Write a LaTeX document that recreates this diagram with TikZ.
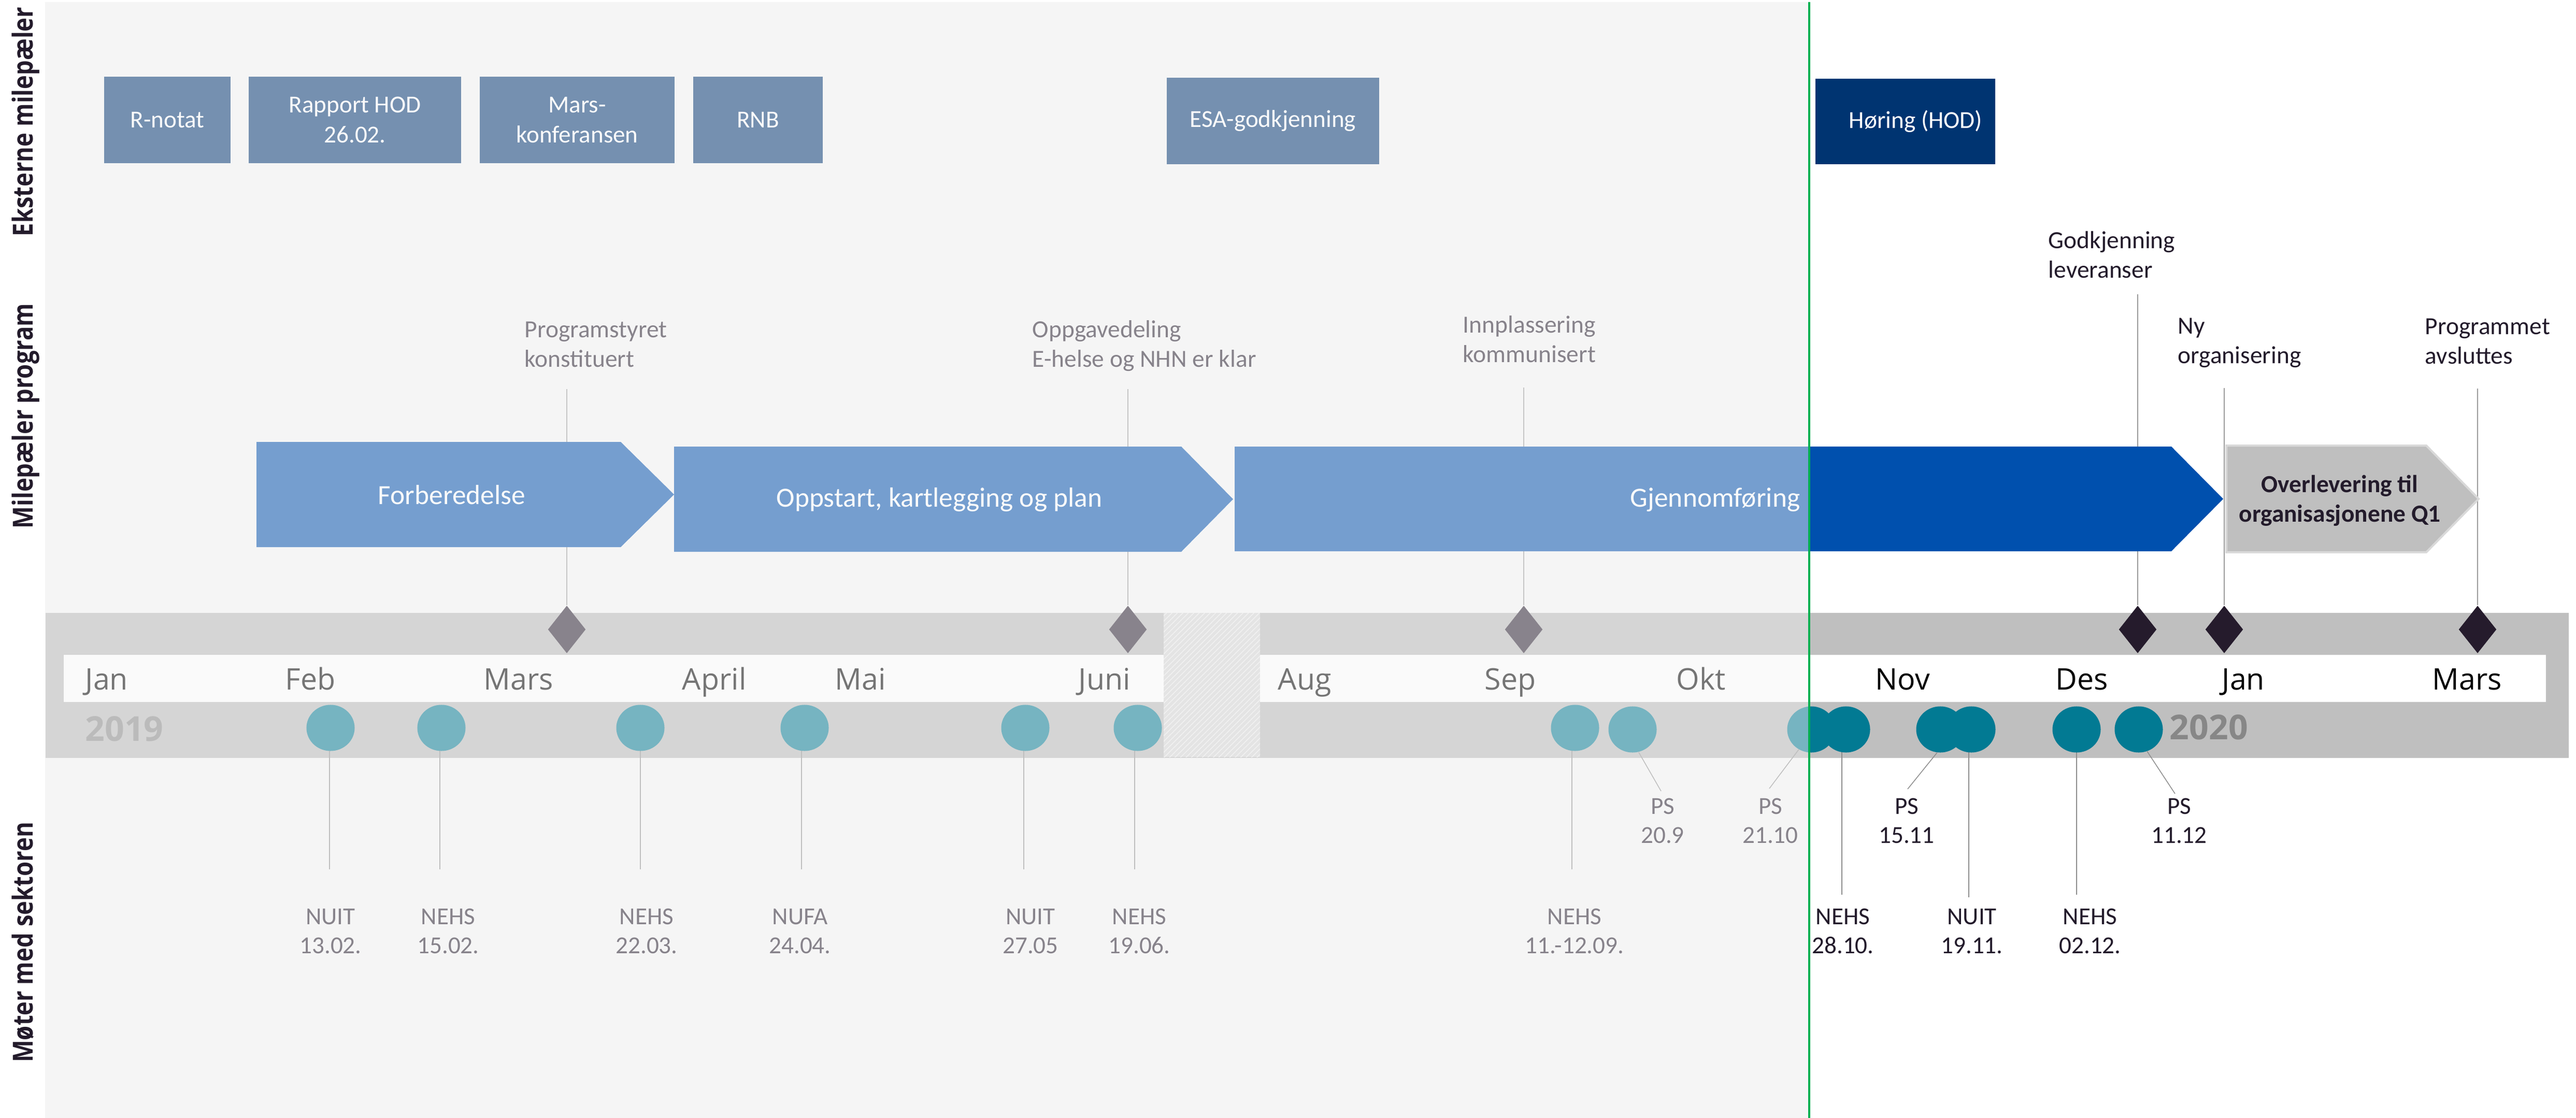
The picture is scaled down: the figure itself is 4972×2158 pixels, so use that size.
\documentclass[tikz,border=0pt]{standalone}
\usepackage{fontspec}
\setmainfont{Carlito}
\newfontfamily\monthfont{Open Sans}
\usetikzlibrary{shapes.geometric,patterns}
\definecolor{navy}{HTML}{003471}
\definecolor{arrowblue}{HTML}{0050AE}
\definecolor{arrowgray}{HTML}{BFBFBF}
\definecolor{arrowedge}{HTML}{D9D9D9}
\definecolor{darktxt}{HTML}{231B2B}
\definecolor{mtgteal}{HTML}{027A93}
\definecolor{diamc}{HTML}{251B2C}
\definecolor{bandL}{HTML}{B8B8B8}
\definecolor{bandR}{HTML}{BFBFBF}
\definecolor{panelc}{HTML}{F5F5F5}
\definecolor{gline}{HTML}{00B050}
\definecolor{yeartxt}{HTML}{878787}
\definecolor{linegray}{HTML}{9A9A9A}
\definecolor{linegrayb}{HTML}{8C8C8C}
\definecolor{gapc}{HTML}{E4E4E4}
\definecolor{gaphatch}{HTML}{F2F2F2}
\newcommand{\sidetext}[1]{\scalebox{0.85}[1]{#1}}
\tikzset{
 extbox/.style={rectangle, fill=navy, text=white, inner sep=0pt, align=center, font=\fontsize{13.4}{16.3}\selectfont, minimum height=1.67cm},
 arrowtxt/.style={inner sep=0pt, text=white, font=\fontsize{15.2}{18}\selectfont},
 mslabel/.style={anchor=north west, inner sep=0pt, align=left, text=darktxt, font=\fontsize{13.5}{16.4}\selectfont},
 msline/.style={draw=linegray, line width=0.02cm},
 mtline/.style={draw=linegrayb, line width=0.015cm},
 mtlabel/.style={anchor=north, inner sep=0pt, align=center, text=darktxt, font=\fontsize{13.4}{15.9}\selectfont},
 milestone/.style={diamond, fill=diamc, inner sep=0pt, minimum width=0.73cm, minimum height=0.92cm, aspect=0.79},
 meeting/.style={ellipse, fill=mtgteal, inner sep=0pt, minimum width=0.93cm, minimum height=0.89cm},
 tlmonth/.style={anchor=base west, inner sep=0pt, font=\monthfont\fontsize{16.3}{19}\selectfont},
 tlyear/.style={anchor=base west, inner sep=0pt, text=yeartxt, font=\monthfont\bfseries\fontsize{18.8}{22}\selectfont},
 sidelbl/.style={rotate=90, anchor=base, inner sep=0pt, text=darktxt, font=\monthfont\bfseries\fontsize{15.2}{18}\selectfont},
}
\begin{document}
\begin{tikzpicture}[x=0.01cm, y=-0.01cm]
\useasboundingbox (0,0) rectangle (4972,2158);
\fill[white] (0,0) rectangle (4972,2158);
\fill[panelc] (87,4) rectangle (3492,2158);

% external milestones
\node[extbox, minimum width=2.44cm] (e1) at (323,231.5) {R-notat};
\node[extbox, minimum width=4.10cm] (e2) at (685,231.5) {Rapport HOD\\26.02.};
\node[extbox, minimum width=3.76cm] (e3) at (1114,231.5) {Mars-\\konferansen};
\node[extbox, minimum width=2.50cm] (e4) at (1463,231.5) {RNB};
\node[extbox, minimum width=4.10cm] (e5) at (2457,233.5) {ESA-godkjenning};
\node[extbox, minimum width=3.47cm, minimum height=1.65cm] (e6) at (3677.5,234.5) {\hspace*{0.4cm}Høring (HOD)};

% milestone line tops
\coordinate (t1) at (1094,751);
\coordinate (t2) at (2177,751);
\coordinate (t3) at (2941,748);
\coordinate (t4) at (4126,568);
\coordinate (t5) at (4293,749);
\coordinate (t6) at (4782,750);

% band and strip
\fill[bandL] (88,1183) rectangle (3492,1463);
\fill[bandR] (3492,1183) rectangle (4958,1463);
\fill[white] (123,1264) rectangle (2249,1355);
\fill[white] (2432,1264) rectangle (4914,1355);

% diamonds
\node[milestone] (d1) at (1094,1215) {};
\node[milestone] (d2) at (2177,1215) {};
\node[milestone] (d3) at (2941,1215) {};
\node[milestone] (d4) at (4126,1215) {};
\node[milestone] (d5) at (4293,1215) {};
\node[milestone] (d6) at (4782,1215) {};

\foreach \i in {1,...,6} {\draw[msline] (t\i) -- (d\i.north);}

% phase arrows
\fill[arrowblue] (495,853) -- (1198,853) -- (1301,954.5) -- (1198,1056) -- (495,1056) -- cycle;
\fill[arrowblue] (1301,862) -- (2280,862) -- (2380,963.5) -- (2280,1065) -- (1301,1065) -- cycle;
\fill[arrowblue] (2383,862) -- (4191,862) -- (4291,963) -- (4191,1064) -- (2383,1064) -- cycle;
\filldraw[fill=arrowgray, draw=arrowedge, line width=0.04cm] (4297,860) -- (4683,860) -- (4784,963) -- (4683,1066) -- (4297,1066) -- cycle;

\node[arrowtxt] (a1) at (872,955) {Forberedelse};
\node[arrowtxt] (a2) at (1813,965) {Oppstart, kartlegging og plan};
\node[arrowtxt, anchor=east] (a3) at (3475,965) {Gjennomføring};
\node[inner sep=0pt, align=center, text=darktxt, font=\fontsize{13.5}{16.2}\selectfont\bfseries] (a4) at (4516,966) {Overlevering til\\organisasjonene Q1};

% milestone labels
\node[mslabel] (ms1) at (1012,610) {\strut Programstyret\\konstituert};
\node[mslabel] (ms2) at (1992,610) {\strut Oppgavedeling\\E-helse og NHN er klar};
\node[mslabel] (ms3) at (2823,601) {\strut Innplassering\\kommunisert};
\node[mslabel] (ms4) at (3953,438) {\strut Godkjenning\\leveranser};
\node[mslabel] (ms5) at (4203,603) {\strut Ny\\organisering};
\node[mslabel] (ms6) at (4680,604) {\strut Programmet\\avsluttes};

% months
\node[tlmonth] (mJan) at (164,1331) {Jan};
\node[tlmonth] (mFeb) at (550,1331) {Feb};
\node[tlmonth] (mMar) at (933,1331) {Mars};
\node[tlmonth] (mApr) at (1316,1331) {April};
\node[tlmonth] (mMai) at (1611,1331) {Mai};
\node[tlmonth] (mJun) at (2081,1331) {Juni};
\node[tlmonth] (mAug) at (2466,1331) {Aug};
\node[tlmonth] (mSep) at (2865,1331) {Sep};
\node[tlmonth] (mOkt) at (3235,1331) {Okt};
\node[tlmonth] (mNov) at (3619,1331) {Nov};
\node[tlmonth] (mDes) at (3967,1331) {Des};
\node[tlmonth] (mJan2) at (4288,1331) {Jan};
\node[tlmonth] (mMar2) at (4694,1331) {Mars};
\node[tlyear] (y1) at (164,1430) {2019};
\node[tlyear] (y2) at (4187,1427) {2020};

% meeting line ends
\coordinate (l1) at (636,1678);
\coordinate (l2) at (849,1678);
\coordinate (l3) at (1236,1678);
\coordinate (l4) at (1547,1678);
\coordinate (l5) at (1976,1678);
\coordinate (l6) at (2190,1678);
\coordinate (l7) at (3034,1678);
\coordinate (l8) at (3206,1527);
\coordinate (l9) at (3415,1522);
\coordinate (l10) at (3555,1727);
\coordinate (l11) at (3682,1523);
\coordinate (l12) at (3800,1732);
\coordinate (l13) at (4008,1727);
\coordinate (l14) at (4198,1532);

% meeting dot positions
\coordinate (p1) at (638,1405);
\coordinate (p2) at (852,1405);
\coordinate (p3) at (1236,1405);
\coordinate (p4) at (1553,1405);
\coordinate (p5) at (1979,1405);
\coordinate (p6) at (2196,1405);
\coordinate (p7) at (3040,1405);

\foreach \i in {1,...,7} {\draw[mtline] (l\i) -- (l\i |- p\i);}
\draw[mtline] (l10) -- (l10 |- p7);
\draw[mtline] (l12) -- (l12 |- p7);
\draw[mtline] (l13) -- (l13 |- p7);

\foreach \i in {1,...,7} {\node[meeting] (c\i) at (p\i) {};}
\node[meeting] (c8) at (3151,1408) {};
\node[meeting] (c9) at (3496,1408) {};
\node[meeting] (c10) at (3563,1408) {};
\node[meeting] (c11) at (3745,1408) {};
\node[meeting] (c12) at (3805,1408) {};
\node[meeting] (c13) at (4008,1408) {};
\node[meeting] (c14) at (4128,1408) {};

\draw[mtline] (c8.-75) -- (l8);
\draw[mtline] (c9.-122) -- (l9);
\draw[mtline] (c11.-98) -- (l11);
\draw[mtline] (c14.-69) -- (l14);

% meeting labels
\node[mtlabel] (n1) at (638,1745) {\strut NUIT\\13.02.};
\node[mtlabel] (n2) at (865,1745) {\strut NEHS\\15.02.};
\node[mtlabel] (n3) at (1248,1745) {\strut NEHS\\22.03.};
\node[mtlabel] (n4) at (1544,1745) {\strut NUFA\\24.04.};
\node[mtlabel] (n5) at (1989,1745) {\strut NUIT\\27.05};
\node[mtlabel] (n6) at (2199,1745) {\strut NEHS\\19.06.};
\node[mtlabel] (n7) at (3039,1745) {\strut NEHS\\11.-12.09.};
\node[mtlabel] (n8) at (3209,1532) {\strut PS\\20.9};
\node[mtlabel] (n9) at (3417,1532) {\strut PS\\21.10};
\node[mtlabel] (n10) at (3557,1745) {\strut NEHS\\28.10.};
\node[mtlabel] (n11) at (3680,1532) {\strut PS\\15.11};
\node[mtlabel] (n12) at (3806,1745) {\strut NUIT\\19.11.};
\node[mtlabel] (n13) at (4034,1745) {\strut NEHS\\02.12.};
\node[mtlabel] (n14) at (4206,1532) {\strut PS\\11.12};

% past-period veil
\fill[panelc, opacity=0.48] (87,4) rectangle (3492,2158);

% summer gap
\fill[gapc] (2246,1183) rectangle (2432,1461);
\fill[pattern=north east lines, pattern color=gaphatch] (2246,1183) rectangle (2432,1461);

% today line
\draw[gline, line width=0.04cm] (3492,4) -- (3492,2158);

% side labels
\node[sidelbl] (s1) at (64,235) {\sidetext{Eksterne milepæler}};
\node[sidelbl] (s2) at (64,803) {\sidetext{Milepæler program}};
\node[sidelbl] (s3) at (64,1819) {\sidetext{Møter med sektoren}};
\end{tikzpicture}
\end{document}
